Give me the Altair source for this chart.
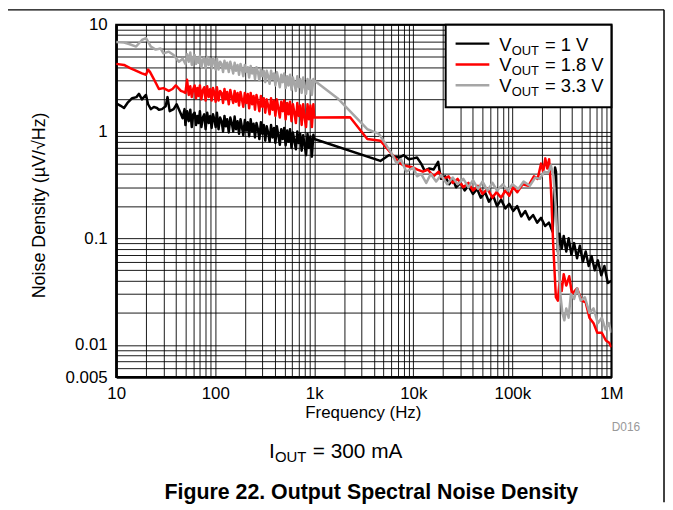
import altair as alt
import pandas as pd

# ---------------- data ----------------
series_names = ["1 V", "1.8 V", "3.3 V"]
series_colors = ["#000000", "#ff0000", "#a6a6a6"]

# shared frequency grid of the noisy 50 Hz .. 1 kHz stretch
noise_f = [50, 52, 54, 56, 58, 60, 62, 64, 66, 68,
           70, 72.5, 75, 77.5, 80, 83, 86, 89, 92, 95,
           98, 101, 104, 108, 112, 116, 120, 124, 128, 132,
           137, 142, 147, 152, 157, 162, 168, 174, 180, 186,
           192, 199, 206, 213, 220, 228, 236, 244, 252, 261,
           270, 279, 289, 299, 309, 320, 331, 342, 354, 366,
           379, 392, 405, 419, 434, 449, 464, 480, 497, 514,
           532, 550, 569, 589, 609, 630, 652, 674, 697, 721,
           746, 772, 799, 826, 855, 884, 915, 946, 979, 1000]

# ---- VOUT = 1 V
black_lf = [(10, 1.84), (11, 1.75), (12, 1.66), (13, 1.85), (14.5, 2.05), (16, 2.1), (17, 2.25),
            (18.2, 2.0), (20, 2.2), (21, 1.8), (22.4, 1.62), (24, 1.7), (25.8, 1.66), (27, 1.6),
            (29, 1.62), (31.6, 1.72), (33, 2.1), (34.7, 1.55), (38, 1.62), (40.8, 1.8), (44.6, 1.49),
            (46.9, 1.33), (49, 1.62)]
black_nz = [1.15, 1.55, 1.25, 1.6, 1.1, 1.45, 1.5, 1.15, 1.4, 1.2,
            1.55, 1.1, 1.35, 1.45, 1.05, 1.5, 1.2, 1.4, 1.08, 1.45,
            1.3, 1.1, 1.5, 1.05, 1.35, 1.25, 1.0, 1.4, 1.12, 1.3,
            0.98, 1.35, 1.2, 1.0, 1.38, 1.05, 1.25, 0.95, 1.3, 1.1,
            0.92, 1.28, 1.02, 1.22, 0.9, 1.3, 1.0, 1.18, 0.88, 1.2,
            1.05, 0.85, 1.22, 0.95, 1.15, 0.82, 1.12, 0.98, 0.8, 1.15,
            0.88, 1.08, 0.78, 1.12, 0.92, 0.75, 1.05, 0.85, 1.08, 0.74,
            1.02, 0.8, 1.05, 0.7, 0.98, 0.82, 0.68, 1.0, 0.78, 0.95,
            0.66, 0.92, 0.75, 0.6, 0.95, 0.7, 0.9, 0.58, 0.93, 0.85]
black_hf = [(4650, 0.53), (5650, 0.6), (6500, 0.58), (7200, 0.57), (8000, 0.6), (9000, 0.55),
            (10000, 0.56), (10900, 0.57), (12000, 0.5), (13000, 0.43), (14500, 0.45), (16000, 0.44),
            (17800, 0.52), (19000, 0.36), (21000, 0.38), (23000, 0.32), (25000, 0.36), (27000, 0.3),
            (30000, 0.33), (33000, 0.28), (36000, 0.31), (40000, 0.26), (44000, 0.29), (48000, 0.24),
            (53000, 0.27), (58000, 0.22), (64000, 0.25), (70000, 0.2), (77000, 0.23), (85000, 0.19),
            (93000, 0.21), (102000, 0.18), (112000, 0.2), (123000, 0.16), (135000, 0.18), (148000, 0.15),
            (162000, 0.165), (178000, 0.14), (195000, 0.155), (214000, 0.13), (234000, 0.14),
            (255000, 0.115), (270000, 0.46), (276000, 0.42), (288000, 0.075), (300000, 0.11),
            (315000, 0.08), (330000, 0.105), (350000, 0.075), (370000, 0.1), (395000, 0.07),
            (420000, 0.09), (450000, 0.065), (480000, 0.085), (515000, 0.06), (550000, 0.075),
            (590000, 0.055), (630000, 0.068), (680000, 0.05), (730000, 0.062), (790000, 0.045),
            (850000, 0.055), (920000, 0.038), (1000000, 0.04)]

# ---- VOUT = 1.8 V
red_lf = [(10, 4.3), (12, 4.2), (14, 3.9), (16, 3.7), (18.2, 3.5), (20, 3.4), (21, 3.8), (22, 3.6),
          (24, 3.1), (27, 2.5), (30, 2.55), (34, 2.4), (37, 2.5), (40, 2.7), (45, 2.4), (48, 2.35)]
red_nz = [2.3, 3.05, 2.2, 2.65, 2.1, 2.5, 2.7, 2.05, 2.55, 2.15,
          2.7, 2.0, 2.45, 2.6, 1.95, 2.65, 2.1, 2.5, 1.95, 2.55,
          2.3, 1.9, 2.6, 1.95, 2.4, 2.3, 1.85, 2.5, 2.0, 2.35,
          1.8, 2.45, 2.1, 1.85, 2.4, 1.9, 2.3, 1.75, 2.35, 2.0,
          1.7, 2.3, 1.85, 2.25, 1.65, 2.3, 1.8, 2.15, 1.6, 2.2,
          1.9, 1.55, 2.15, 1.7, 2.05, 1.5, 2.0, 1.75, 1.45, 2.05,
          1.6, 1.95, 1.4, 2.0, 1.65, 1.35, 1.9, 1.55, 1.95, 1.3,
          1.85, 1.45, 1.9, 1.25, 1.8, 1.5, 1.2, 1.85, 1.4, 1.75,
          1.15, 1.8, 1.35, 1.1, 1.8, 1.3, 1.75, 1.1, 1.8, 1.35]
red_hf = [(2300, 1.36), (3430, 0.85), (4650, 0.82), (7200, 0.51), (8000, 0.48), (9000, 0.47),
          (10000, 0.46), (11000, 0.44), (12500, 0.42), (14000, 0.44), (16000, 0.38), (18000, 0.42),
          (20000, 0.36), (22700, 0.38), (25000, 0.33), (28000, 0.36), (32000, 0.3), (36000, 0.33),
          (40000, 0.28), (45000, 0.31), (50000, 0.26), (56000, 0.29), (63000, 0.24), (69000, 0.27),
          (77000, 0.24), (85000, 0.28), (93000, 0.25), (102000, 0.3), (112000, 0.27), (127000, 0.32),
          (145000, 0.31), (165000, 0.38), (180000, 0.36), (195000, 0.5), (205000, 0.42), (215000, 0.56),
          (225000, 0.45), (235000, 0.55), (245000, 0.3), (258000, 0.09), (275000, 0.028),
          (288000, 0.026), (300000, 0.04), (315000, 0.032), (330000, 0.046), (350000, 0.036),
          (375000, 0.044), (400000, 0.03), (450000, 0.034), (500000, 0.026), (550000, 0.025),
          (600000, 0.018), (660000, 0.016), (720000, 0.013), (800000, 0.013), (880000, 0.011),
          (950000, 0.0105), (1000000, 0.0095)]

# ---- VOUT = 3.3 V
gray_lf = [(10, 6.9), (12, 6.8), (13.5, 6.6), (15.9, 6.25), (18.2, 7.2), (20, 7.5), (22.4, 6.25),
           (25, 5.85), (28, 6.0), (30, 5.4), (34, 5.6), (38, 5.2), (43, 4.5), (47, 4.8)]
gray_nz = [4.3, 5.3, 4.5, 5.5, 4.2, 5.0, 5.2, 4.3, 4.9, 4.4,
           5.1, 4.0, 4.7, 4.9, 3.9, 5.0, 4.2, 4.8, 3.9, 4.9,
           4.5, 3.8, 4.8, 3.8, 4.5, 4.3, 3.6, 4.6, 3.9, 4.4,
           3.6, 4.5, 4.0, 3.5, 4.4, 3.7, 4.2, 3.4, 4.3, 3.8,
           3.3, 4.2, 3.6, 4.0, 3.2, 4.1, 3.5, 3.9, 3.1, 4.0,
           3.6, 3.0, 3.9, 3.3, 3.7, 2.9, 3.7, 3.3, 2.8, 3.7,
           3.1, 3.5, 2.7, 3.6, 3.1, 2.6, 3.4, 2.9, 3.5, 2.55,
           3.3, 2.7, 3.4, 2.45, 3.2, 2.8, 2.4, 3.3, 2.6, 3.1,
           2.3, 3.2, 2.6, 2.25, 3.1, 2.5, 3.05, 2.2, 3.1, 3.0]
gray_hf = [(1716, 2.05), (3430, 1.05), (4500, 0.95), (6050, 0.62), (6800, 0.5), (7500, 0.55),
           (8500, 0.42), (10000, 0.46), (10900, 0.38), (12000, 0.4), (13500, 0.33), (15000, 0.4),
           (17000, 0.34), (19000, 0.39), (22000, 0.32), (25000, 0.37), (28000, 0.32), (32000, 0.36),
           (36000, 0.3), (40000, 0.35), (45000, 0.29), (50000, 0.34), (56000, 0.28), (63000, 0.33),
           (70000, 0.28), (80000, 0.32), (90000, 0.28), (100000, 0.32), (115000, 0.29), (130000, 0.34),
           (150000, 0.31), (170000, 0.37), (190000, 0.36), (210000, 0.42), (230000, 0.41),
           (245000, 0.48), (260000, 0.38), (275000, 0.19), (290000, 0.07), (305000, 0.03),
           (320000, 0.02), (335000, 0.017), (350000, 0.022), (370000, 0.018), (390000, 0.03),
           (420000, 0.027), (450000, 0.034), (490000, 0.026), (540000, 0.028), (600000, 0.02),
           (660000, 0.022), (730000, 0.016), (800000, 0.018), (870000, 0.014), (940000, 0.016),
           (1000000, 0.013)]

x_label_values = [10, 100, 1000, 10000, 100000, 1000000]
x_label_texts = ["10", "100", "1k", "10k", "100k", "1M"]
y_label_values = [0.005, 0.01, 0.1, 1, 10]
y_label_texts = ["0.005", "0.01", "0.1", "1", "10"]


# ---------------- build table ----------------
def series_frame(name, lf, nz, hf):
    assert len(nz) == len(noise_f)
    f = [p[0] for p in lf] + noise_f + [p[0] for p in hf]
    v = [p[1] for p in lf] + nz + [p[1] for p in hf]
    return pd.DataFrame({"f": f, "v": v, "s": name})


df = pd.concat([
    series_frame(series_names[0], black_lf, black_nz, black_hf),
    series_frame(series_names[1], red_lf, red_nz, red_hf),
    series_frame(series_names[2], gray_lf, gray_nz, gray_hf),
], ignore_index=True)

FONT = "Liberation Sans"
W, H = 499, 355

x_grid = [m * 10 ** k for k in range(1, 6) for m in range(1, 10)] + [1000000]
y_grid = [round(m * 10.0 ** k, 6) for k in range(-3, 1) for m in range(1, 10)
          if m * 10.0 ** k >= 0.0049] + [10]


def label_expr(values, texts):
    expr = "''"
    for v, t in zip(reversed(values), reversed(texts)):
        expr = f"datum.value == {v} ? '{t}' : ({expr})"
    return expr


xscale = alt.Scale(type="log", domain=[10, 1000000], nice=False)
yscale = alt.Scale(type="log", domain=[0.005, 10], nice=False)

common_axis = dict(ticks=False, grid=True, gridColor="#000000", gridWidth=1, gridOpacity=0.9,
                   domainColor="#000000", domainWidth=2.5, labelFont=FONT, labelFontSize=17,
                   labelColor="#000000", labelFlush=False, labelOverlap=False, labelBound=False)
xaxis = alt.Axis(values=x_grid, labelExpr=label_expr(x_label_values, x_label_texts),
                 labelPadding=9, **common_axis)
yaxis = alt.Axis(values=y_grid, labelExpr=label_expr(y_label_values, y_label_texts),
                 labelPadding=9, **common_axis)

layers = []
for name, color in zip(series_names, series_colors):
    layers.append(
        alt.Chart(df).transform_filter(alt.datum.s == name)
        .mark_line(color=color, strokeWidth=2.5, clip=True, strokeJoin="round")
        .encode(x=alt.X("f:Q", scale=xscale, axis=xaxis, title=None),
                y=alt.Y("v:Q", scale=yscale, axis=yaxis, title=None))
    )

anno = alt.Chart(pd.DataFrame({"k": [0]}))


def txt(text, x, y, size=18, align="left", baseline="alphabetic", color="#000000",
        weight="normal", angle=0):
    kw = dict(text=text, font=FONT, fontSize=size, align=align, baseline=baseline,
              color=color, fontWeight=weight)
    if angle:
        kw["angle"] = angle
    return anno.mark_text(**kw).encode(x=alt.value(x), y=alt.value(y))


def hrule(x1, x2, y, color, width):
    return anno.mark_rule(color=color, strokeWidth=width).encode(
        x=alt.value(x1), x2=alt.value(x2), y=alt.value(y))


def vrule(x, y1, y2, color, width):
    return anno.mark_rule(color=color, strokeWidth=width).encode(
        x=alt.value(x), y=alt.value(y1), y2=alt.value(y2))


# legend box
layers.append(anno.mark_rect(fill="white", stroke="#000000", strokeWidth=2).encode(
    x=alt.value(332), x2=alt.value(499), y=alt.value(0), y2=alt.value(83)))
for i, (name, color) in enumerate(zip(series_names, series_colors)):
    ly = 19 + 21 * i
    by = 26 + 21 * i
    layers.append(hrule(342, 376, ly, color, 2.5))
    layers.append(txt("V", 386, by, size=18.5))
    layers.append(txt("OUT", 398.5, by + 4, size=13))
    layers.append(txt("= " + name, 432, by, size=18.5))

# titles and notes
layers.append(txt("Noise Density (\u00b5V/\u221aHz)", -77, 182, size=18, align="center",
                  baseline="middle", angle=270))
layers.append(txt("Frequency (Hz)", 249, 391, size=17, align="center", baseline="middle"))
layers.append(txt("D016", 528, 405, size=12, align="right", baseline="middle", color="#999999"))
layers.append(txt("I", 154, 437, size=21))
layers.append(txt("OUT", 160, 441, size=15))
layers.append(txt("= 300 mA", 198, 437, size=21))
layers.append(txt("Figure 22. Output Spectral Noise Density", 257, 472, size=21.5, align="center",
                  baseline="middle", weight="bold"))

# page frame lines
layers.append(hrule(-109, 552, -15, "#000000", 1.5))
layers.append(vrule(552, -15, 481, "#000000", 1.5))

chart = alt.layer(*layers).properties(
    width=W, height=H,
    autosize=alt.AutoSizeParams(type="none"),
    padding={"left": 109, "top": 15, "right": 54, "bottom": 126},
).configure_view(stroke="#000000", strokeWidth=2)

chart.save("out.html", embed_options={"renderer": "svg", "actions": False})
